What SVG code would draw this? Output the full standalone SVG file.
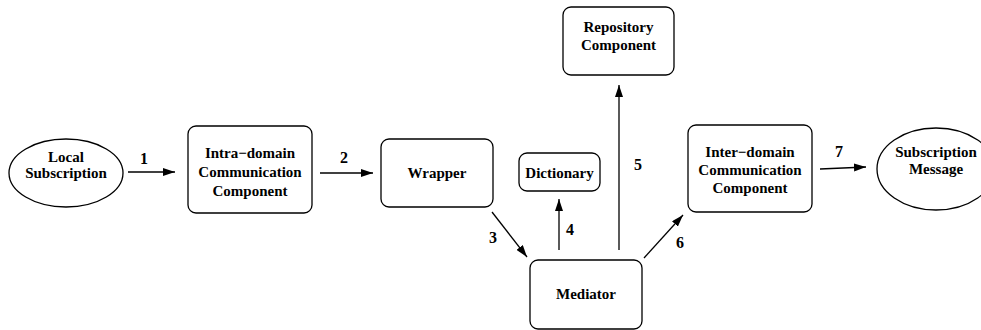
<svg xmlns="http://www.w3.org/2000/svg" width="981" height="330" viewBox="0 0 981 330">
  <style>
    .box { fill: #fff; stroke: #000; stroke-width: 1.3; }
    .lbl { font-family: "Liberation Serif", "Times New Roman", serif; font-weight: bold; font-size: 15px; fill: #000; text-anchor: middle; }
    .num { font-family: "Liberation Serif", "Times New Roman", serif; font-weight: bold; font-size: 16px; fill: #000; text-anchor: middle; }
    .edge { stroke: #000; stroke-width: 1.3; fill: none; marker-end: url(#head); }
  </style>
  <defs>
    <marker id="head" viewBox="0 0 12 8" refX="12" refY="4" markerWidth="12" markerHeight="8" markerUnits="userSpaceOnUse" orient="auto">
      <path d="M0,0 L12,4 L0,8 Z" fill="#000"/>
    </marker>
  </defs>
  <rect width="981" height="330" fill="#fff"/>

  <g id="local-subscription">
    <ellipse class="box" cx="66" cy="173" rx="57" ry="34"/>
    <text class="lbl" x="66" y="162">Local</text>
    <text class="lbl" x="66" y="178">Subscription</text>
  </g>

  <g id="intra-domain">
    <rect class="box" x="188" y="126" width="124" height="87" rx="8"/>
    <text class="lbl" x="250" y="158">Intra−domain</text>
    <text class="lbl" x="250" y="177">Communication</text>
    <text class="lbl" x="250" y="196">Component</text>
  </g>

  <g id="wrapper">
    <rect class="box" x="381" y="139" width="112" height="68" rx="8"/>
    <text class="lbl" x="437" y="178">Wrapper</text>
  </g>

  <g id="dictionary">
    <rect class="box" x="519" y="153" width="81" height="38" rx="8"/>
    <text class="lbl" x="559.5" y="178">Dictionary</text>
  </g>

  <g id="mediator">
    <rect class="box" x="530" y="260" width="112" height="69" rx="8"/>
    <text class="lbl" x="586" y="299">Mediator</text>
  </g>

  <g id="repository">
    <rect class="box" x="563" y="7" width="111" height="68" rx="8"/>
    <text class="lbl" x="618.5" y="32">Repository</text>
    <text class="lbl" x="618.5" y="50">Component</text>
  </g>

  <g id="inter-domain">
    <rect class="box" x="688" y="125" width="124" height="87" rx="8"/>
    <text class="lbl" x="750" y="157">Inter−domain</text>
    <text class="lbl" x="750" y="175">Communication</text>
    <text class="lbl" x="750" y="193">Component</text>
  </g>

  <g id="subscription-message">
    <ellipse class="box" cx="936" cy="169" rx="59" ry="41"/>
    <text class="lbl" x="936" y="157">Subscription</text>
    <text class="lbl" x="936" y="174">Message</text>
  </g>

  <g id="connectors">
    <line class="edge" x1="128" y1="172" x2="175" y2="172"/>
    <line class="edge" x1="320" y1="173" x2="373" y2="173"/>
    <line class="edge" x1="492" y1="212" x2="527" y2="257"/>
    <line class="edge" x1="559" y1="250" x2="559" y2="199"/>
    <line class="edge" x1="619" y1="250" x2="619" y2="85"/>
    <line class="edge" x1="644" y1="258" x2="683" y2="215"/>
    <line class="edge" x1="820" y1="169" x2="866" y2="167"/>
    <text class="num" x="144" y="164">1</text>
    <text class="num" x="344" y="163">2</text>
    <text class="num" x="493" y="243">3</text>
    <text class="num" x="570" y="235">4</text>
    <text class="num" x="638" y="170">5</text>
    <text class="num" x="680" y="248">6</text>
    <text class="num" x="839" y="157">7</text>
  </g>
</svg>
